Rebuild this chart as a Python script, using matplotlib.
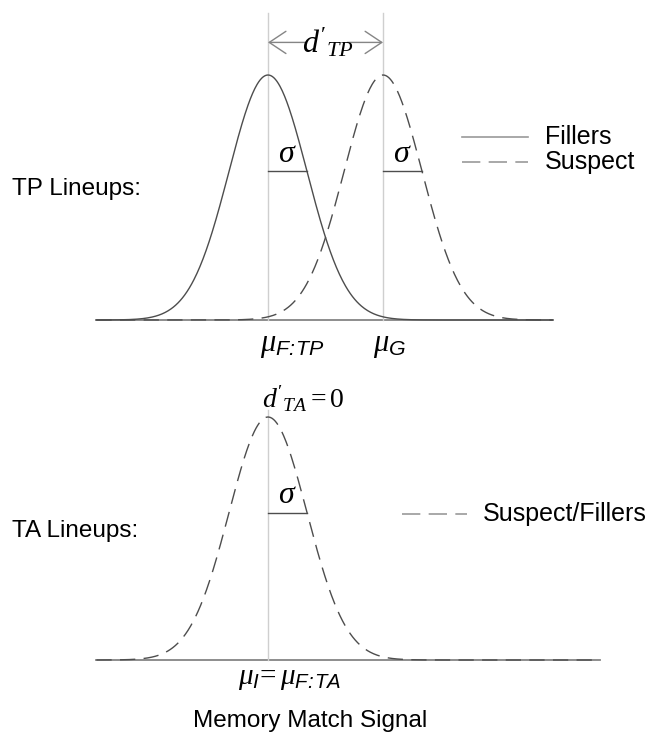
import numpy as np
import matplotlib
matplotlib.use("Agg")
import matplotlib.pyplot as plt

plt.rcParams["font.family"] = ["Liberation Sans", "DejaVu Sans"]
plt.rcParams["mathtext.fontset"] = "custom"
plt.rcParams["mathtext.rm"] = "Liberation Serif"
plt.rcParams["mathtext.it"] = "Liberation Serif:italic"
plt.rcParams["mathtext.sf"] = "Liberation Sans:italic"

# model parameters (in sigma units)
sigma = 1.0
mu_filler_tp = 0.0
mu_guilty = 2.95
mu_ta = 0.0
tp_range = (-4.4, 7.3)
ta_range = (-4.4, 8.5)

tp_legend = ["Fillers", "Suspect"]
ta_legend = ["Suspect/Fillers"]
row_labels = ["TP Lineups:", "TA Lineups:"]
xlabel = "Memory Match Signal"

CURVE = "#4d4d4d"
BASE = "#858585"
VLINE = "#cfcfcf"
LEG = "#9a9a9a"
DASH = (11, 6)
FS = 17.5
FS_LEG = 18

# pixel layout: 39 px per sigma, mean at x=268 px
px_sigma = 39.0
x0_px = 268.0
xlim = (-x0_px / px_sigma, (662 - x0_px) / px_sigma)


def density(x, mu):
    return np.exp(-0.5 * ((x - mu) / sigma) ** 2)


def setup(ax, ylim):
    ax.set_xlim(*xlim)
    ax.set_ylim(*ylim)
    ax.axis("off")


def sigma_mark(ax, mu):
    h = density(mu + sigma, mu)
    ax.plot([mu, mu + sigma], [h, h], color=CURVE, lw=1.0)
    ax.text(mu + sigma / 2, h + 0.01, r"$\sigma$", ha="center", va="bottom",
            fontsize=23)


fig = plt.figure(figsize=(6.62, 7.40), dpi=100)

# ---------- TP lineups ----------
ax1 = fig.add_axes([0, 0.5, 1, 0.5])
setup(ax1, ((320 - 370) / 245, 320 / 245))
x = np.linspace(*tp_range, 600)
ax1.plot(tp_range, [0, 0], color=BASE, lw=1.3)
for mu in (mu_filler_tp, mu_guilty):
    ax1.plot([mu, mu], [0, 1.253], color=VLINE, lw=1.0)
ax1.plot(x, density(x, mu_filler_tp), color=CURVE, lw=1.0)
ax1.plot(x, density(x, mu_guilty), color=CURVE, lw=1.0, dashes=DASH)
sigma_mark(ax1, mu_filler_tp)
sigma_mark(ax1, mu_guilty)

# d' arrows
ya = 1.133
arrow = dict(arrowstyle="->,head_length=0.6,head_width=0.4", color=BASE,
             lw=1.0, mutation_scale=20, shrinkA=0, shrinkB=0)
ax1.annotate("", xy=(mu_filler_tp, ya), xytext=(0.95, ya), arrowprops=arrow)
ax1.annotate("", xy=(mu_guilty, ya), xytext=(2.03, ya), arrowprops=arrow)
ax1.text((mu_filler_tp + mu_guilty) / 2 + 0.05, ya, r"$d'_{TP}$", ha="center",
         va="center", fontsize=23)

ax1.text(mu_filler_tp - 0.2, -0.1, r"$\mu_{\mathsf{F\!:\!TP}}$", ha="left",
         va="center", fontsize=22)
ax1.text(mu_guilty - 0.26, -0.1, r"$\mu_{\mathsf{G}}$", ha="left",
         va="center", fontsize=22)

# legend
for i, (lab, ls) in enumerate(zip(tp_legend, ["-", "--"])):
    yl = 0.745 - i * 0.1
    kw = dict(dashes=(11, 5)) if ls == "--" else {}
    ax1.plot([4.97, 6.67], [yl, yl], color=LEG, lw=1.2, **kw)
    ax1.text(7.1, yl, lab, ha="left", va="center", fontsize=FS_LEG)

ax1.text(-6.56, 0.535, row_labels[0], ha="left", va="center", fontsize=FS)

# ---------- TA lineups ----------
ax2 = fig.add_axes([0, 0, 1, 0.5])
setup(ax2, ((660 - 740) / 243, (660 - 370) / 243))
x = np.linspace(*ta_range, 600)
ax2.plot(ta_range, [0, 0], color=BASE, lw=1.3)
ax2.plot([mu_ta, mu_ta], [0, 1.03], color=VLINE, lw=1.0)
ax2.plot(x, density(x, mu_ta), color=CURVE, lw=1.0, dashes=DASH)
sigma_mark(ax2, mu_ta)

ax2.text(mu_ta - 0.15, 1.075, r"$d'_{TA}=0$", ha="left", va="center",
         fontsize=20)
ax2.text(mu_ta - 0.77, -0.074, r"$\mu_{\mathsf{I}}\!=\mu_{\mathsf{F\!:\!TA}}$",
         ha="left", va="center", fontsize=21)

ax2.plot([3.44, 5.10], [0.601, 0.601], color=LEG, lw=1.2, dashes=(11, 5))
ax2.text(5.51, 0.601, ta_legend[0], ha="left", va="center", fontsize=FS_LEG)
ax2.text(-6.56, 0.53, row_labels[1], ha="left", va="center", fontsize=FS)

fig.text(310 / 662, 1 - 721 / 740, xlabel, ha="center", va="center",
         fontsize=FS)

fig.savefig("out.png", dpi=100)
